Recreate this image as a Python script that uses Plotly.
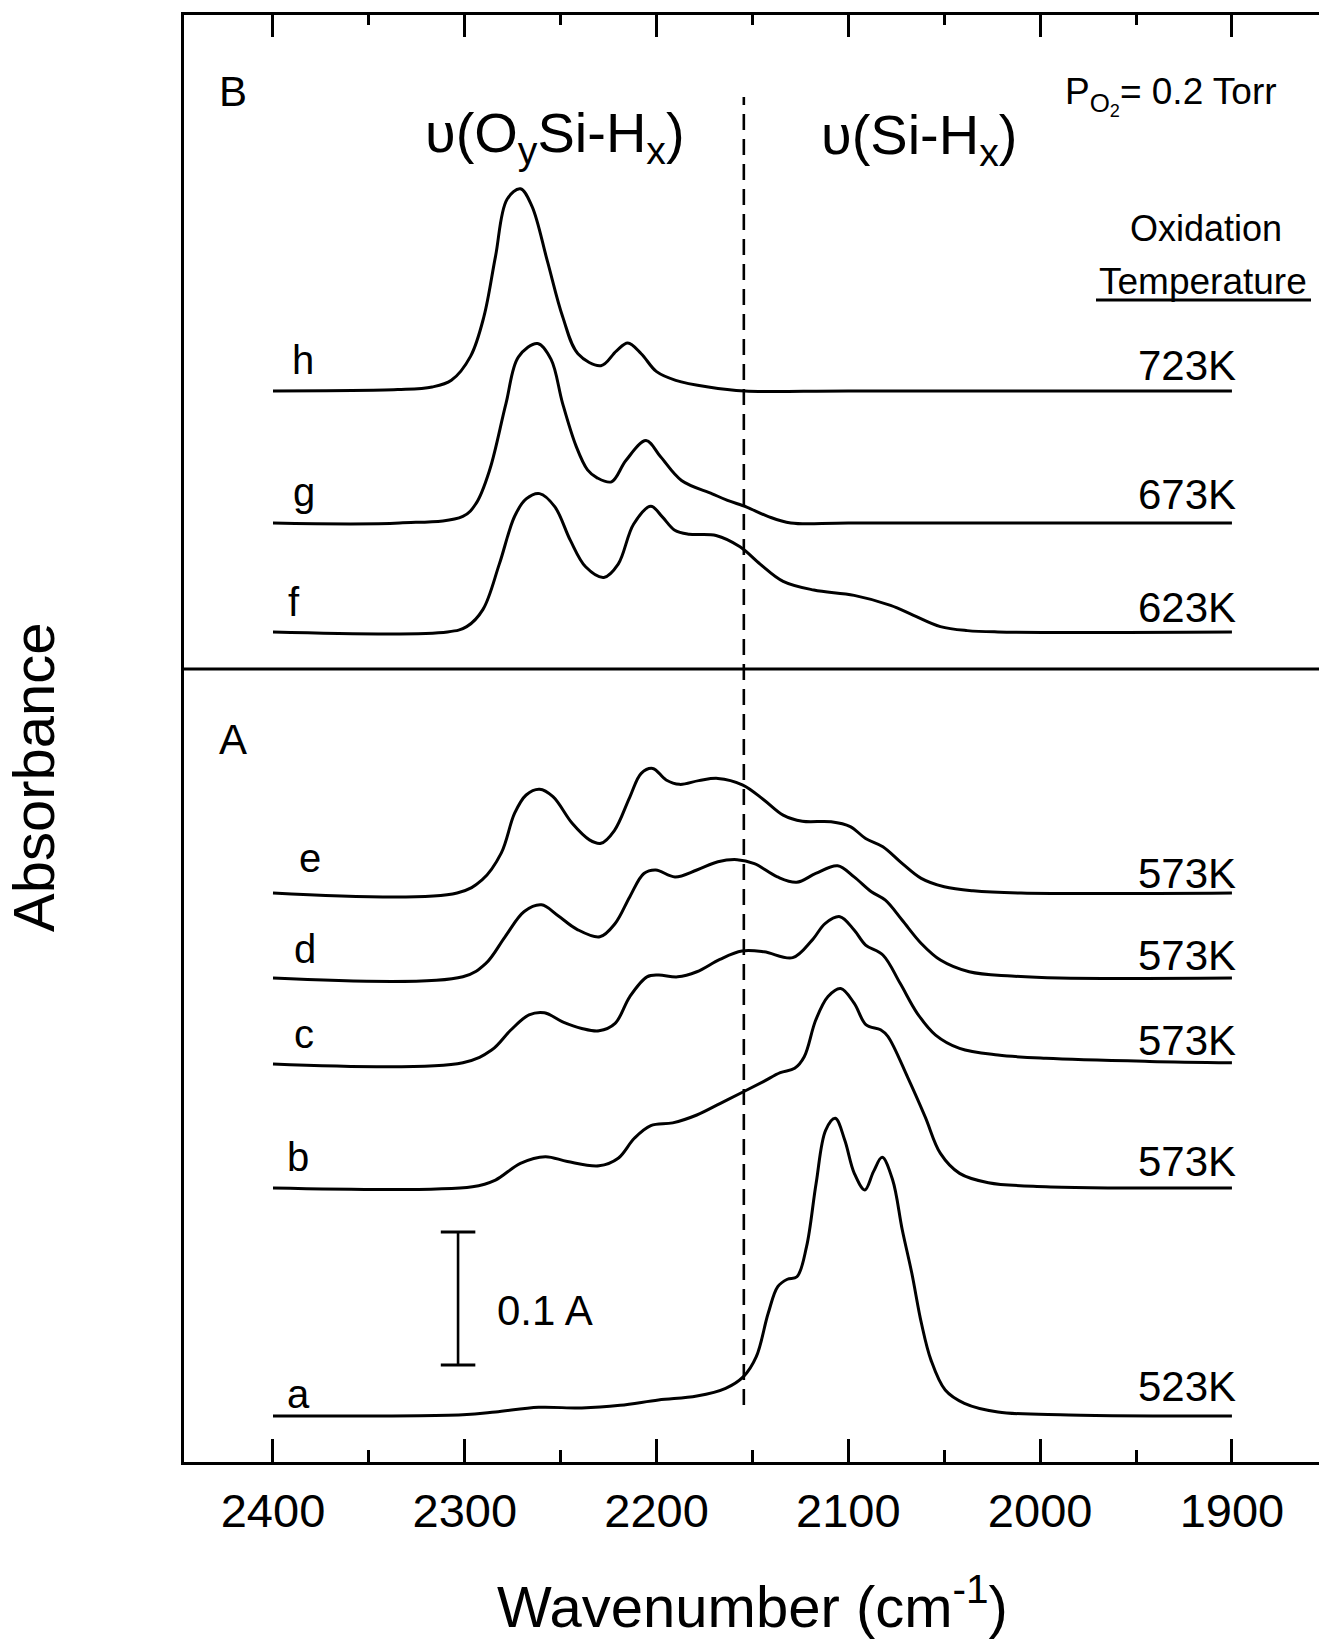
import plotly.graph_objects as go

# ---------------- data (absorbance above each curve's own baseline) ----------------
h_wn = [2400, 2335, 2317, 2307, 2297, 2290, 2284, 2278, 2271, 2265, 2257, 2249, 2241,
        2229, 2221, 2215, 2208, 2200, 2190, 2173, 2154, 2100, 1900]
h_abs = [0, 0.001, 0.003, 0.008, 0.026, 0.056, 0.101, 0.144, 0.152, 0.139, 0.098, 0.056, 0.028,
         0.019, 0.030, 0.036, 0.028, 0.0145, 0.008, 0.003, 0.0, 0.0, 0.0]

g_wn = [2400, 2334, 2301, 2294, 2287, 2278.5, 2272, 2262, 2255, 2249, 2242, 2236, 2231,
        2223.5, 2216, 2205.5, 2198, 2187, 2171, 2163, 2153, 2142, 2130, 2100, 1900]
g_abs = [0, 0, 0.005, 0.015, 0.040, 0.090, 0.125, 0.135, 0.123, 0.090, 0.058, 0.040, 0.034,
         0.031, 0.047, 0.062, 0.050, 0.032, 0.022, 0.017, 0.012, 0.005, 0, 0, 0]

f_wn = [2400, 2309, 2299, 2290.5, 2282, 2274, 2268, 2261, 2253, 2245, 2237, 2227.5, 2220,
        2212, 2203, 2197, 2190.5, 2183, 2169, 2156.5, 2146, 2134, 2118, 2097, 2078, 2066,
        2052, 2038, 2022, 1900]
f_abs = [0, 0, 0.004, 0.017, 0.051, 0.087, 0.100, 0.104, 0.094, 0.069, 0.049, 0.041, 0.051,
         0.081, 0.0945, 0.0865, 0.0765, 0.0735, 0.0725, 0.064, 0.051, 0.038, 0.0315, 0.0275,
         0.020, 0.0125, 0.004, 0.001, 0, 0]

e_wn = [2400, 2304, 2291, 2281, 2274, 2268, 2261, 2254, 2244, 2235, 2229, 2222, 2214, 2208,
        2202, 2195, 2188, 2178, 2168, 2155, 2144, 2134, 2124, 2109, 2099, 2091, 2082, 2072,
        2062, 2050, 2035, 2010, 1900]
e_abs = [0, 0, 0.0098, 0.030, 0.060, 0.0737, 0.078, 0.0724, 0.0524, 0.040, 0.0374, 0.047,
         0.072, 0.090, 0.0937, 0.085, 0.0817, 0.0845, 0.0862, 0.0812, 0.070, 0.0586, 0.054,
         0.0536, 0.050, 0.041, 0.0348, 0.0223, 0.011, 0.0047, 0.0017, 0, 0]

d_wn = [2400, 2301, 2289, 2279, 2269, 2260, 2251.5, 2241.5, 2229.6, 2221.6, 2214, 2206.6,
        2200.4, 2190.4, 2179, 2168, 2158, 2149, 2137, 2127, 2117, 2105.6, 2097, 2088,
        2080.7, 2072, 2062, 2052, 2037, 2015, 1990, 1900]
d_abs = [0, 0.001, 0.011, 0.031, 0.050, 0.055, 0.047, 0.0366, 0.031, 0.041, 0.061, 0.0786,
         0.0812, 0.076, 0.0812, 0.0874, 0.089, 0.086, 0.076, 0.072, 0.0786, 0.0844, 0.076,
         0.0649, 0.0585, 0.0436, 0.026, 0.0135, 0.0047, 0.0015, 0, 0]

c_wn = [2400, 2301, 2286, 2276, 2266.5, 2258.5, 2249, 2239, 2230, 2221.6, 2214, 2205, 2199,
        2189, 2179, 2167, 2155.5, 2144, 2129, 2119, 2112, 2104.4, 2097, 2091, 2082, 2073,
        2064, 2054.5, 2042, 2022, 1997, 1943, 1900]
c_abs = [0, 0.001, 0.0105, 0.0256, 0.037, 0.0386, 0.0318, 0.0268, 0.025, 0.0306, 0.0506,
         0.0656, 0.0669, 0.0656, 0.0694, 0.0787, 0.085, 0.0844, 0.080, 0.093, 0.1058, 0.1108,
         0.1008, 0.0895, 0.082, 0.0607, 0.038, 0.0218, 0.0118, 0.0068, 0.0043, 0.002, 0.001]

b_wn = [2400, 2296, 2284, 2271, 2258, 2246.5, 2230, 2220, 2211.6, 2203, 2191.6, 2179,
        2166.7, 2154.7, 2144.3, 2135.5, 2128, 2123, 2117, 2110.6, 2104, 2097, 2090.7,
        2083.2, 2079.4, 2069, 2060, 2052, 2042, 2027, 1997, 1900]
b_abs = [0, 0.001, 0.006, 0.0186, 0.0236, 0.0199, 0.0167, 0.0224, 0.0374, 0.0469, 0.049,
         0.0549, 0.0637, 0.0724, 0.080, 0.0867, 0.090, 0.0987, 0.1263, 0.144, 0.150, 0.139,
         0.1226, 0.119, 0.114, 0.083, 0.0537, 0.026, 0.011, 0.004, 0.001, 0]

a_wn = [2400, 2301, 2284, 2261.5, 2239, 2219, 2199, 2179, 2164, 2154.7, 2148, 2141.8,
        2136.8, 2131.8, 2126.8, 2121.8, 2116.8, 2111.8, 2106.8, 2101.9, 2096.9, 2091.4,
        2086.9, 2082.4, 2076.9, 2071.9, 2066.9, 2061.9, 2056.9, 2049.5, 2039.5, 2022,
        1985, 1900]
a_abs = [0, 0.001, 0.003, 0.0065, 0.006, 0.008, 0.012, 0.015, 0.0208, 0.0296, 0.0446,
         0.0772, 0.0972, 0.1028, 0.1047, 0.1273, 0.175, 0.215, 0.2238, 0.2075, 0.1825,
         0.170, 0.1837, 0.1945, 0.1774, 0.140, 0.1073, 0.0697, 0.042, 0.0195, 0.0095,
         0.003, 0.0008, 0]

curve_letters = ["a", "b", "c", "d", "e", "f", "g", "h"]
oxidation_temps = ["523K", "573K", "573K", "573K", "573K", "623K", "673K", "723K"]
curve_offsets = [0.0346, 0.206, 0.2992, 0.3639, 0.4278, 0.6241, 0.706, 0.8053]  # vertical stacking (A)
curves_wn = [a_wn, b_wn, c_wn, d_wn, e_wn, f_wn, g_wn, h_wn]
curves_abs = [a_abs, b_abs, c_abs, d_abs, e_abs, f_abs, g_abs, h_abs]

x_tick_vals = [2400, 2300, 2200, 2100, 2000, 1900]
x_tick_text = ["2400", "2300", "2200", "2100", "2000", "1900"]
x_minor_vals = [2350, 2250, 2150, 2050, 1950]
divider_wn = 2154.5          # dashed separator between the two bands
scale_bar_A = 0.1            # absorbance scale bar
scale_bar_wn = 2303.5
scale_bar_base = 0.073

# ---------------- layout geometry ----------------
W, H = 1319, 1644
L, R, T, B = 184, 1319, 15, 1462
X_RANGE = [2446.4, 1854.6]
Y_RANGE = [0, (B - T) / 1330.0]
FONT = "Liberation Sans, Arial, Helvetica, sans-serif"


def pp(x, y):
    """pixel -> paper coordinates"""
    return (x - L) / (R - L), (B - y) / (B - T)


def ydat(y):
    return (B - y) / (B - T) * Y_RANGE[1]


fig = go.Figure()
for wn, ab, off in zip(curves_wn, curves_abs, curve_offsets):
    fig.add_trace(go.Scatter(
        x=wn, y=[off + v for v in ab], mode="lines",
        line=dict(color="black", width=3, shape="spline", smoothing=1.0),
        showlegend=False, hoverinfo="skip"))

annotations = []


def add_text(text, x, y, size, xanchor="center", yanchor="middle", angle=0):
    px_, py_ = pp(x, y)
    annotations.append(dict(text=text, x=px_, y=py_, xref="paper", yref="paper",
                            xanchor=xanchor, yanchor=yanchor, showarrow=False,
                            textangle=angle, font=dict(family=FONT, size=size, color="black")))


add_text("B", 233, 92, 42)
add_text("A", 233, 739, 42)
add_text("υ(O<sub>y</sub>Si-H<sub>x</sub>)", 555, 136, 56)
add_text("υ(Si-H<sub>x</sub>)", 919, 138, 56)
add_text("P<sub>O<sub>2</sub></sub>= 0.2 Torr", 1063, 96, 37, xanchor="left")
add_text("Oxidation", 1206, 229, 36)
add_text("Temperature", 1203, 281, 37)

letter_pos = [(298, 1394), (298, 1157), (304, 1034), (305, 949), (310, 858),
              (294, 602), (304, 492), (303, 360)]
temp_y = [1386, 1161, 1040, 955, 874, 607, 495, 366]
for lab, (lx, ly), tlab, ty in zip(curve_letters, letter_pos, oxidation_temps, temp_y):
    add_text(lab, lx, ly, 40)
    add_text(tlab, 1238, ty, 42, xanchor="right")

add_text("0.1 A", 545, 1310, 42)
add_text("Absorbance", 33, 777, 58, angle=-90)
add_text("Wavenumber (cm<sup>-1</sup>)", 752, 1602, 58)

shapes = []
# B / A divider
shapes.append(dict(type="line", xref="paper", yref="y", x0=0, x1=1,
                   y0=ydat(669), y1=ydat(669), line=dict(color="black", width=3)))
# dashed separator
shapes.append(dict(type="line", xref="x", yref="y", x0=divider_wn, x1=divider_wn,
                   y0=ydat(1405), y1=ydat(97), line=dict(color="black", width=2.6, dash="16px,9px")))
# scale bar
shapes.append(dict(type="line", xref="x", yref="y", x0=scale_bar_wn, x1=scale_bar_wn,
                   y0=scale_bar_base, y1=scale_bar_base + scale_bar_A,
                   line=dict(color="black", width=2.6)))
for yy in (scale_bar_base, scale_bar_base + scale_bar_A):
    shapes.append(dict(type="line", xref="x", yref="y", x0=scale_bar_wn + 9, x1=scale_bar_wn - 9,
                       y0=yy, y1=yy, line=dict(color="black", width=3)))
# underline of "Temperature"
ux0, uy = pp(1096, 300)
ux1, _ = pp(1311, 300)
shapes.append(dict(type="line", xref="paper", yref="paper", x0=ux0, x1=ux1, y0=uy, y1=uy,
                   line=dict(color="black", width=3)))

fig.update_layout(
    width=W, height=H,
    margin=dict(l=L, r=W - R, t=T, b=H - B, pad=0),
    paper_bgcolor="white", plot_bgcolor="white",
    showlegend=False,
    annotations=annotations, shapes=shapes,
    xaxis=dict(range=X_RANGE, autorange=False, showgrid=False, zeroline=False,
               showline=True, linecolor="black", linewidth=3,
               ticks="inside", ticklen=23, tickwidth=2.5, tickcolor="black",
               tickvals=x_tick_vals, ticktext=x_tick_text,
               tickfont=dict(family=FONT, size=47, color="black"),
               ticklabelstandoff=6,
               minor=dict(ticks="inside", ticklen=12, tickwidth=2.5, tickcolor="black",
                          tickvals=x_minor_vals, showgrid=False)),
    xaxis2=dict(range=X_RANGE, autorange=False, overlaying="x", side="top", anchor="y",
                showgrid=False, zeroline=False, showline=True, linecolor="black", linewidth=3,
                ticks="inside", ticklen=22, tickwidth=2.5, tickcolor="black",
                tickvals=x_tick_vals, showticklabels=False,
                minor=dict(ticks="inside", ticklen=10, tickwidth=2.5, tickcolor="black",
                           tickvals=x_minor_vals, showgrid=False)),
    yaxis=dict(range=Y_RANGE, autorange=False, showgrid=False, zeroline=False,
               showline=True, linecolor="black", linewidth=3, ticks="", showticklabels=False),
)
fig.add_trace(go.Scatter(x=[], y=[], xaxis="x2", yaxis="y", showlegend=False, hoverinfo="skip"))

fig.write_html("out.html")
